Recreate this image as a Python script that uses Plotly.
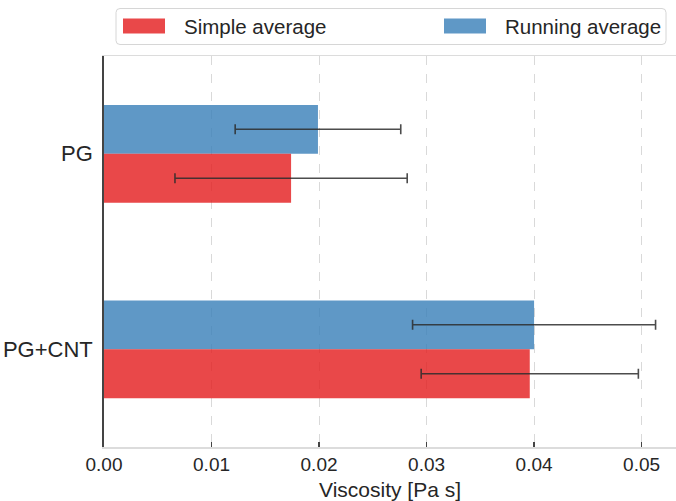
import plotly.graph_objects as go

categories = ["PG", "PG+CNT"]
simple_avg = [0.0174, 0.0396]
simple_err = [0.0108, 0.0101]
running_avg = [0.0199, 0.0400]
running_err = [0.0077, 0.0113]
series_names = ["Simple average", "Running average"]
x_ticks = [0.00, 0.01, 0.02, 0.03, 0.04, 0.05]

RED = "rgba(228,26,28,0.8)"
BLUE = "rgba(55,126,184,0.8)"
FONT = "Liberation Sans, Arial, sans-serif"
TXT = "#262626"

W, H = 676, 501
L, R, T, B = 104, 0, 56, 54
pw, ph = W - L - R, H - T - B


def px(x):
    return (x - L) / pw


def py(y):
    return (H - B - y) / ph


fig = go.Figure()
err_style = dict(type="data", color="rgba(45,45,45,0.85)", thickness=1.6, width=5)
fig.add_trace(go.Bar(
    name=series_names[1], y=categories, x=running_avg, orientation="h",
    offset=-0.25, width=0.25, marker=dict(color=BLUE, line=dict(width=0)),
    error_x=dict(array=running_err, **err_style), showlegend=False,
))
fig.add_trace(go.Bar(
    name=series_names[0], y=categories, x=simple_avg, orientation="h",
    offset=0.0, width=0.25, marker=dict(color=RED, line=dict(width=0)),
    error_x=dict(array=simple_err, **err_style), showlegend=False,
))

# legend drawn with shapes + text
bx0, bx1, by0, by1, rr = px(116), px(666), py(8.5), py(44.5), 4
rx, ry = rr / pw, rr / ph
path = (f"M{bx0+rx},{by0} L{bx1-rx},{by0} Q{bx1},{by0} {bx1},{by0-ry} "
        f"L{bx1},{by1+ry} Q{bx1},{by1} {bx1-rx},{by1} L{bx0+rx},{by1} "
        f"Q{bx0},{by1} {bx0},{by1+ry} L{bx0},{by0-ry} Q{bx0},{by0} {bx0+rx},{by0} Z")
shapes = [dict(type="path", xref="paper", yref="paper", path=path,
               line=dict(color="#d6d6d6", width=1), fillcolor="white", layer="above")]
legend_items = [(123, 165, 182, RED, series_names[0]), (444, 486, 503, BLUE, series_names[1])]
annotations = []
for x0, x1, tx, col, name in legend_items:
    shapes.append(dict(type="rect", xref="paper", yref="paper",
                       x0=px(x0), x1=px(x1), y0=py(33.5), y1=py(18.5),
                       fillcolor=col, line=dict(width=0), layer="above"))
    annotations.append(dict(xref="paper", yref="paper", x=px(tx), y=py(26),
                            xanchor="left", yanchor="middle", text=name, showarrow=False,
                            font=dict(family=FONT, size=20.5, color=TXT)))

fig.update_layout(
    width=W, height=H, margin=dict(l=L, r=R, t=T, b=B, pad=0),
    paper_bgcolor="white", plot_bgcolor="white", barmode="overlay",
    font=dict(family=FONT, color=TXT),
    shapes=shapes, annotations=annotations, showlegend=False,
    xaxis=dict(
        range=[0, 0.0532], tickvals=x_ticks, ticktext=[f"{v:.2f}" for v in x_ticks],
        showgrid=True, gridcolor="#d9d9d9", griddash="dash", gridwidth=1,
        zeroline=False, showline=True, linecolor="#dcdcdc", linewidth=1.5, mirror=True,
        ticks="inside", ticklen=5, tickwidth=1.5, tickcolor="#444",
        tickfont=dict(size=19, color=TXT, family=FONT),
        title=dict(text="Viscosity [Pa s]", font=dict(size=21, color=TXT, family=FONT), standoff=8),
    ),
    yaxis=dict(
        type="category", range=[1.5, -0.5], showgrid=False, zeroline=False,
        showline=True, linecolor="#444", linewidth=1.8, ticks="", ticklabelstandoff=5,
        tickfont=dict(size=22, color=TXT, family=FONT),
    ),
)

fig.write_html(
    "out.html",
    config={"displayModeBar": False, "staticPlot": True},
    post_script="document.body.style.margin='0';document.body.style.padding='0';",
)
